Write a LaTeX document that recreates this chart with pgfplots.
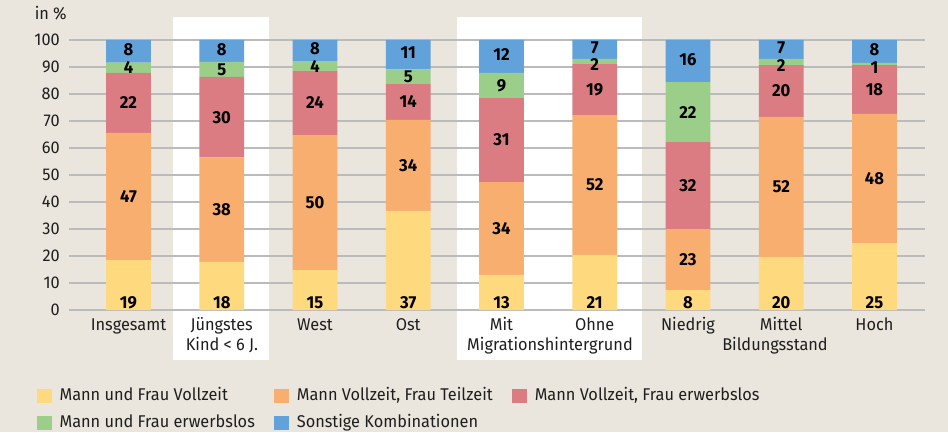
\documentclass[border=0pt]{standalone}
\usepackage{fontspec}
\setmainfont[FakeStretch=0.96]{Fira Sans}
\usepackage{pgfplots}
\pgfplotsset{compat=1.18}
\definecolor{bg}{HTML}{EAE6DD}
\definecolor{cYel}{HTML}{FFD97D}
\definecolor{cOra}{HTML}{F8AE6F}
\definecolor{cRed}{HTML}{DB7C83}
\definecolor{cGre}{HTML}{9BCF89}
\definecolor{cBlu}{HTML}{62A2DA}
\definecolor{gridc}{HTML}{BBBBBB}
\definecolor{txt}{HTML}{1E1E1E}
\newlength{\px}\setlength{\px}{0.75pt}
\pgfplotsset{
  common/.style={
    scale only axis, width=856\px, height=270\px,
    xmin=-0.638, xmax=8.542, ymin=0, ymax=100,
  },
  lbl/.style={draw=none, mark=none, nodes near coords, point meta=explicit symbolic,
    every node near coord/.append style={anchor=#1, font=\fontsize{13}{15}\selectfont\bfseries, text=black, inner sep=0pt}},
}
\begin{document}
\begin{tikzpicture}[font=\fontsize{12.75}{15}\selectfont, text=txt]
% background and white bands for the highlighted groups
\fill[bg] (-69\px,-122\px) rectangle (879\px,310\px);
\fill[white] (104\px,-50\px) rectangle (200\px,293\px);
\fill[white] (388\px,-50\px) rectangle (573\px,293\px);

\begin{axis}[common, ybar stacked, bar width=0.48,
  axis line style={draw=none}, major tick length=0pt,
  ymajorgrids, grid style={gridc, line width=1pt},
  ytick={0,10,...,100}, xtick={0,...,8},
  xticklabels={Insgesamt, Jüngstes, West, Ost, Mit, Ohne, Niedrig, Mittel, Hoch},
  xticklabel style={anchor=base, inner sep=0pt, yshift=-20\px},
  yticklabel style={anchor=east, inner sep=0pt, xshift=-9\px},
  /pgf/number format/assume math mode=true,
  legend columns=3,
  legend cell align=left,
  legend image code/.code={\fill[#1] (0,-7\px) rectangle (15\px,7\px);},
  legend style={at={(-0.0382,-0.2889)}, anchor=north west, draw=none, fill=none,
    inner sep=0pt, column sep=8\px, row sep=11\px,
    nodes={inner sep=0pt, text height=12\px, text depth=4\px},
    /tikz/every even column/.append style={column sep=19\px}},
]
\addplot[fill=cYel, draw=none] coordinates {(0,18.5) (1,17.8) (2,14.8) (3,36.7) (4,13.0) (5,20.4) (6,7.4) (7,19.6) (8,24.8)};
\addlegendentry{Mann und Frau Vollzeit}
\addplot[fill=cOra, draw=none] coordinates {(0,47.1) (1,38.7) (2,50.0) (3,33.7) (4,34.4) (5,51.8) (6,22.6) (7,51.9) (8,47.8)};
\addlegendentry{Mann Vollzeit, Frau Teilzeit}
\addplot[fill=cRed, draw=none] coordinates {(0,22.2) (1,29.8) (2,23.7) (3,13.3) (4,31.1) (5,18.9) (6,32.2) (7,19.2) (8,18.1)};
\addlegendentry{Mann Vollzeit, Frau erwerbslos}
\addplot[fill=cGre, draw=none] coordinates {(0,3.8) (1,5.6) (2,3.7) (3,5.4) (4,9.3) (5,1.9) (6,22.2) (7,2.3) (8,0.8)};
\addlegendentry{Mann und Frau erwerbslos}
\addplot[fill=cBlu, draw=none] coordinates {(0,8.4) (1,8.1) (2,7.8) (3,10.9) (4,12.2) (5,7.0) (6,15.6) (7,7.0) (8,8.5)};
\addlegendentry{Sonstige Kombinationen}
\end{axis}

% value labels
\begin{axis}[common, hide axis, clip=false]
\addplot[lbl=base] coordinates {(0,0.5)[19] (1,0.5)[18] (2,0.5)[15] (3,0.5)[37] (4,0.5)[13] (5,0.5)[21] (6,0.5)[8] (7,0.5)[20] (8,0.5)[25]};
\addplot[lbl=center] coordinates {(0,42.0)[47] (1,37.2)[38] (2,39.8)[50] (3,53.6)[34] (4,30.2)[34] (5,46.3)[52] (6,18.7)[23] (7,45.6)[52] (8,48.7)[48]};
\addplot[lbl=center] coordinates {(0,77.0)[22] (1,71.4)[30] (2,76.7)[24] (3,77.1)[14] (4,63.0)[31] (5,81.7)[19] (6,46.1)[32] (7,81.1)[20] (8,81.7)[18]};
\addplot[lbl=center] coordinates {(0,89.7)[4] (1,89.1)[5] (2,90.3)[4] (3,86.4)[5] (4,83.2)[9] (5,91.1)[2] (6,73.3)[22] (7,90.4)[2] (8,89.7)[1]};
\addplot[lbl=center] coordinates {(0,96.6)[8] (1,96.6)[8] (2,96.7)[8] (3,95.2)[11] (4,94.5)[12] (5,97.0)[7] (6,92.8)[16] (7,97.0)[7] (8,96.4)[8]};
\end{axis}

\node[anchor=base east, inner sep=0pt] at (-2\px,290\px) {in \%};
\node[anchor=base, inner sep=0pt] at (153\px,-40\px) {Kind < 6 J.};
\node[anchor=base, inner sep=0pt] at (481\px,-40\px) {Migrationshintergrund};
\node[anchor=base, inner sep=0pt] at (706\px,-40\px) {Bildungsstand};
\end{tikzpicture}
\end{document}
